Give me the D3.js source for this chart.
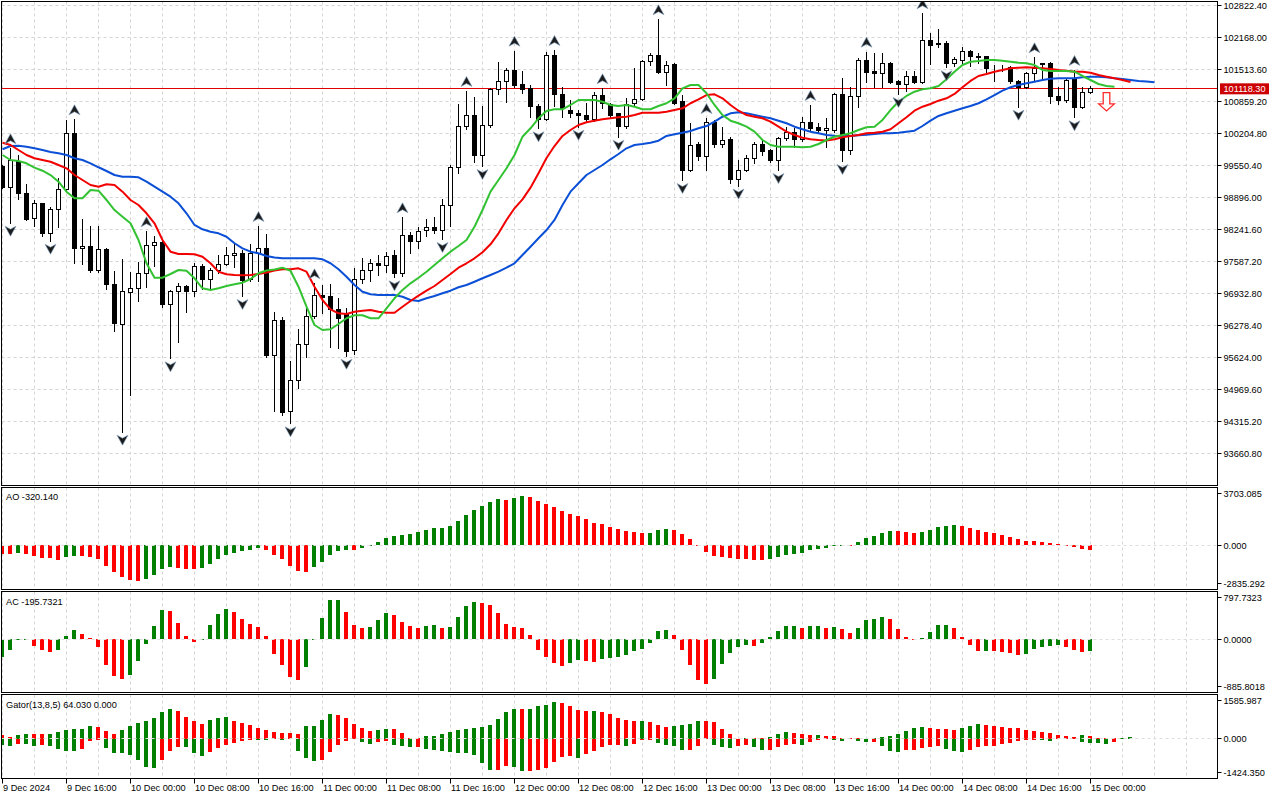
<!DOCTYPE html>
<html>
<head>
<meta charset="utf-8">
<script src="https://cdn.jsdelivr.net/npm/d3@7"></script>
<style>
html, body { margin: 0; padding: 0; background: #fff; }
svg { display: block; font-family: "Liberation Sans", Arial, sans-serif; font-size: 9.2px; }
</style>
</head>
<body>
<svg id="chart" width="1280" height="800"></svg>
<script>
// BTCUSD H1, 9 Dec 08:00 -> 15 Dec 00:00, one value per bar
var opens = [99526, 99105, 99628, 98982, 98471, 98778, 98164, 98655, 99064, 100209,
  97863, 97904, 97407, 97837, 97127, 96303, 96957, 97039, 97346, 97919,
  97980, 96712, 96964, 97080, 96978, 97489, 97223, 97407, 97536, 97714,
  97755, 97209, 97755, 97843, 95661, 96371, 94516, 95144, 95880, 96458,
  96888, 96867, 96610, 96508, 95763, 97209, 97399, 97551, 97501, 97700,
  97346, 98123, 98000, 98211, 98278, 98217, 98737, 99514, 100358, 100577,
  99759, 100373, 101109, 101258, 101503, 101197, 101129, 100753, 100495, 101810,
  101007, 100685, 100604, 100563, 100495, 100978, 100808, 100604, 100344, 100823,
  100904, 101673, 101790, 101448, 101606, 100855, 99444, 99984, 99730, 100434,
  99970, 100072, 99274, 99458, 99698, 99990, 99867, 99649, 100107, 100230,
  100072, 100426, 100332, 100276, 100276, 101007, 99847, 100957, 101694, 101469,
  101422, 101641, 101258, 101197, 101366, 101244, 102103, 102015, 102049, 101641,
  101694, 101878, 101775, 101775, 101538, 101555, 101551, 101264, 101150, 101422,
  101606, 101641, 100957, 100876, 101299, 100741, 101039];

var highs = [99561, 99902, 99765, 99166, 98845, 98790, 98696, 99289, 100481, 100495,
  98456, 98313, 98313, 97863, 97393, 97632, 97379, 97583, 98205, 98109,
  98007, 97005, 97154, 97097, 97551, 97530, 97448, 97720, 97890, 97945,
  97822, 97945, 98313, 98150, 96548, 96446, 95559, 96207, 96630, 97141,
  97107, 97120, 96835, 96643, 97448, 97653, 97632, 97720, 97788, 97822,
  98491, 98197, 98299, 98450, 98503, 98859, 99561, 100808, 101074, 100957,
  100767, 101129, 101673, 101538, 101898, 101489, 101197, 100808, 101880, 101912,
  101162, 100890, 100685, 100823, 101060, 101129, 100823, 100630, 100925, 101538,
  101708, 101857, 102540, 101694, 101653, 100992, 100414, 100037, 100520, 100480,
  100332, 100139, 99663, 99765, 100037, 100072, 99882, 100139, 100332, 100311,
  100536, 100788, 100414, 100516, 101027, 101334, 101150, 101743, 101878, 101845,
  101845, 101661, 101299, 101483, 101489, 102663, 102254, 102336, 102103, 101775,
  101968, 101912, 101845, 101790, 101606, 101606, 101585, 101299, 101469, 101763,
  101653, 101673, 101150, 101334, 101503, 101150, 101176];

var lows = [99084, 98381, 98859, 98436, 98313, 98115, 98013, 98299, 99049, 97563,
  97530, 97379, 97379, 97031, 96160, 94107, 94857, 96786, 97060, 97501,
  96651, 95608, 95935, 96548, 96882, 97031, 97031, 97346, 97516, 97481,
  96882, 97195, 97195, 95640, 94530, 94448, 94278, 94994, 95628, 96426,
  96528, 95833, 95812, 95660, 95700, 97141, 97189, 97311, 97379, 97264,
  97290, 97755, 97857, 98115, 98164, 98047, 98319, 99391, 100291, 99628,
  99540, 100344, 101007, 100855, 101162, 101039, 100548, 100311, 100481, 100767,
  100548, 100548, 100344, 100446, 100467, 100720, 100536, 100139, 100323, 100788,
  100890, 101606, 101448, 101197, 100808, 99254, 99444, 99663, 99458, 99935,
  99935, 99190, 99140, 99444, 99608, 99765, 99628, 99458, 100072, 99935,
  100058, 100276, 100209, 99935, 100242, 99643, 99786, 100741, 101264, 101150,
  101150, 101232, 101013, 101080, 101232, 101232, 101626, 101980, 101560, 101590,
  101653, 101595, 101641, 101469, 101285, 101489, 101232, 100753, 101129, 101299,
  101313, 100823, 100808, 100855, 100536, 100720, 101027];

var closes = [99097, 99649, 98968, 98456, 98778, 98150, 98655, 99064, 100209, 97849,
  97904, 97399, 97837, 97113, 96324, 96964, 97031, 97346, 97919, 97980,
  96704, 96964, 97080, 96978, 97481, 97215, 97407, 97536, 97714, 97755,
  97189, 97755, 97857, 95661, 96371, 94495, 95144, 95880, 96458, 96888,
  96847, 96610, 96426, 95743, 97223, 97399, 97551, 97501, 97685, 97346,
  98123, 97992, 98197, 98278, 98217, 98737, 99514, 100358, 100577, 99759,
  100373, 101109, 101258, 101503, 101191, 101109, 100753, 100481, 101796, 101007,
  100720, 100604, 100563, 100495, 100978, 100823, 100583, 100344, 100808, 100904,
  101673, 101790, 101448, 101591, 100823, 99458, 99955, 99730, 100434, 99970,
  100058, 99274, 99458, 99698, 99990, 99833, 99649, 100107, 100230, 100072,
  100426, 100311, 100276, 100311, 101007, 99847, 100957, 101694, 101448, 101422,
  101641, 101244, 101197, 101366, 101244, 102103, 102000, 102049, 101641, 101708,
  101878, 101775, 101769, 101538, 101530, 101546, 101264, 101150, 101422, 101538,
  101641, 100957, 100876, 101285, 100741, 101039, 101118.30];

// Alligator lines as drawn (already shifted forward 8 / 5 / 3 bars)
var jaw = [99882, 99949, 99955, 99935, 99902, 99867, 99827, 99800, 99765, 99698,
  99663, 99595, 99514, 99438, 99356, 99321, 99321, 99309, 99219, 99117,
  99015, 98912, 98778, 98573, 98334, 98246, 98197, 98164, 98094, 97960,
  97857, 97788, 97755, 97700, 97669, 97653, 97653, 97653, 97653, 97653,
  97632, 97551, 97428, 97276, 97107, 96970, 96917, 96902, 96902, 96902,
  96867, 96800, 96780, 96835, 96882, 96937, 96990, 97060, 97107, 97174,
  97244, 97311, 97379, 97461, 97551, 97720, 97890, 98062, 98231, 98436,
  98743, 99015, 99187, 99356, 99458, 99561, 99677, 99786, 99902, 99970,
  99990, 100017, 100058, 100154, 100189, 100221, 100256, 100311, 100358, 100446,
  100548, 100618, 100638, 100618, 100583, 100548, 100516, 100467, 100414, 100344,
  100291, 100242, 100209, 100174, 100160, 100154, 100154, 100168, 100180, 100195,
  100209, 100209, 100221, 100242, 100262, 100358, 100467, 100563, 100618, 100671,
  100720, 100767, 100823, 100904, 100992, 101080, 101150, 101197, 101232, 101264,
  101299, 101326, 101334, 101334, 101334, 101354, 101366, 101366, 101354, 101334,
  101319, 101299, 101279, 101268, 101252];

var teeth = [100017, 99970, 99867, 99765, 99698, 99663, 99628, 99561, 99493, 99356,
  99254, 99152, 99117, 99166, 99152, 99015, 98845, 98743, 98573, 98369,
  98027, 97788, 97741, 97741, 97735, 97685, 97551, 97379, 97326, 97311,
  97305, 97311, 97332, 97362, 97403, 97428, 97428, 97448, 97379, 97072,
  96800, 96610, 96528, 96514, 96561, 96581, 96595, 96561, 96540, 96540,
  96663, 96780, 96888, 96990, 97086, 97209, 97332, 97461, 97551, 97653,
  97775, 97939, 98164, 98436, 98675, 98859, 99097, 99391, 99704, 99949,
  100154, 100276, 100379, 100434, 100467, 100495, 100516, 100536, 100548, 100583,
  100630, 100630, 100630, 100651, 100685, 100720, 100823, 100904, 100992, 101007,
  100925, 100788, 100671, 100583, 100548, 100516, 100446, 100344, 100242, 100174,
  100119, 100086, 100072, 100062, 100086, 100127, 100154, 100174, 100209, 100221,
  100242, 100291, 100414, 100536, 100671, 100753, 100808, 100876, 100925, 101013,
  101150, 101279, 101381, 101422, 101469, 101503, 101538, 101551, 101559, 101551,
  101538, 101524, 101503, 101489, 101469, 101469, 101448, 101401, 101366, 101334,
  101299, 101258];

var lips = [99765, 99663, 99643, 99595, 99506, 99444, 99356, 99219, 99015, 98880,
  98880, 99049, 99035, 98845, 98640, 98503, 98369, 98027, 97551, 97256,
  97256, 97332, 97413, 97399, 97244, 97039, 97005, 97039, 97086, 97121,
  97154, 97229, 97346, 97403, 97424, 97461, 97399, 97072, 96663, 96289,
  96186, 96201, 96309, 96426, 96487, 96487, 96426, 96426, 96630, 96835,
  97005, 97141, 97256, 97379, 97516, 97653, 97788, 97904, 98027, 98299,
  98640, 99015, 99254, 99493, 99765, 100139, 100311, 100516, 100665, 100700,
  100700, 100788, 100890, 100890, 100890, 100855, 100788, 100767, 100788, 100753,
  100700, 100700, 100767, 100823, 100925, 101129, 101197, 101197, 101027, 100788,
  100583, 100467, 100414, 100344, 100242, 100072, 99970, 99935, 99935, 99935,
  99923, 99935, 99990, 100072, 100139, 100174, 100209, 100276, 100332, 100344,
  100481, 100685, 100855, 100972, 101060, 101109, 101129, 101176, 101313, 101469,
  101606, 101673, 101688, 101708, 101708, 101694, 101673, 101653, 101641, 101606,
  101503, 101483, 101483, 101483, 101469, 101381, 101299, 101217, 101176, 101162];

var fractalUp = [1, 9, 18, 32, 39, 50, 58, 64, 69, 75, 82, 88, 101, 108, 115, 129, 134];
var fractalDown = [1, 6, 15, 21, 30, 36, 43, 49, 55, 60, 67, 72, 77, 85, 92, 97, 105, 112, 118, 127, 134];

var ao = [-538, -545, -474, -538, -689, -797, -840, -926, -732, -689,
  -695, -754, -861, -1335, -1722, -2045, -2218, -2282, -2153, -1916,
  -1529, -1400, -1464, -1507, -1529, -1443, -1206, -861, -624, -474,
  -344, -280, -151, -280, -603, -861, -1335, -1658, -1722, -1400,
  -1077, -624, -344, -301, -310, -172, -20, 215, 474, 603,
  667, 732, 861, 990, 1120, 1130, 1249, 1572, 1959, 2282,
  2541, 2799, 2971, 2928, 3057, 3186, 3122, 2864, 2670, 2476,
  2218, 2024, 1895, 1701, 1443, 1378, 1184, 1055, 926, 861,
  797, 800, 990, 1055, 990, 732, 409, -43, -431, -689,
  -754, -818, -883, -888, -926, -935, -861, -732, -603, -538,
  -474, -280, -215, -151, -43, -20, -30, 215, 474, 603,
  797, 926, 920, 861, 797, 861, 990, 1184, 1249, 1313,
  1249, 1120, 990, 861, 797, 667, 538, 409, 280, 275,
  215, 151, 86, -43, -86, -237, -320.140];

var ac = [-295, -184, -5, 0, -111, -178, -212, -178, 50, 150,
  84, 17, -134, -435, -619, -663, -596, -362, -78, 217,
  485, 468, 273, 50, -45, 2, 234, 418, 502, 451,
  334, 251, 201, 50, -251, -435, -635, -680, -468, -5,
  351, 652, 655, 451, 234, 184, 201, 318, 435, 401,
  284, 217, 184, 217, 234, 184, 201, 368, 552, 619,
  602, 568, 435, 251, 201, 184, 67, -184, -301, -401,
  -451, -401, -351, -368, -385, -334, -318, -301, -268, -201,
  -167, -67, 134, 150, 67, -184, -435, -685, -736, -669,
  -418, -234, -134, -100, -105, -67, 34, 134, 217, 220,
  184, 217, 220, 184, 201, 167, 100, 184, 318, 334,
  368, 334, 167, 34, -17, 17, 117, 234, 240, 184,
  34, -100, -201, -190, -201, -210, -230, -268, -251, -167,
  -134, -117, -100, -134, -184, -217, -195.7321];

var gatorUp = [131, 48, 131, 167, 165, 163, 179, 227, 299, 335,
  359, 466, 430, 263, 179, 299, 466, 574, 645, 753,
  968, 1076, 1004, 789, 645, 538, 681, 753, 789, 645,
  574, 502, 394, 323, 251, 215, 209, 179, 466, 472,
  681, 896, 860, 753, 538, 394, 287, 323, 359, 353,
  215, 36, 30, 108, 114, 179, 251, 323, 359, 394,
  430, 502, 717, 968, 1076, 1070, 1082, 1183, 1219, 1326,
  1291, 1183, 1040, 1004, 1010, 968, 896, 753, 681, 645,
  651, 609, 502, 430, 466, 502, 538, 645, 639, 609,
  359, 179, 6, 36, 33, 31, 72, 179, 251, 215,
  179, 143, 149, 108, 105, 36, 12, 10, 6, 36,
  72, 108, 179, 287, 394, 430, 394, 359, 353, 323,
  394, 466, 538, 502, 466, 430, 394, 388, 323, 287,
  251, 215, 143, 108, 72, 143, 108, 36, 33, 31,
  36, 64.030];

var gatorDown = [-215, -251, -179, -185, -251, -215, -251, -359, -430, -436,
  -359, -72, -36, -323, -502, -508, -574, -753, -1004, -1040,
  -753, -430, -287, -293, -502, -609, -466, -323, -215, -143,
  -72, -36, -42, -48, -12, -36, -12, -430, -681, -789,
  -753, -466, -215, -72, -24, -131, -203, -131, -96, -239,
  -275, -311, -305, -382, -418, -454, -490, -496, -526, -598,
  -884, -1135, -1129, -992, -1028, -1171, -1165, -1135, -1064, -848,
  -669, -633, -705, -562, -454, -311, -239, -233, -275, -203,
  -60, -48, -167, -239, -275, -418, -412, -275, -24, -239,
  -311, -317, -275, -239, -311, -418, -412, -311, -239, -203,
  -209, -131, -60, -24, -60, -66, -24, -96, -131, -125,
  -275, -454, -460, -418, -412, -347, -311, -275, -382, -454,
  -490, -418, -311, -275, -269, -203, -167, -96, -60, -54,
  -60, -66, -24, -18, -12, -131, -137, -167, -173, -131];

// first bar has no previous value to compare with, colour as on screen
var firstBarUp = { ao: false, ac: true, gatorUp: false, gatorDown: true };

var priceTicks = [102822.40, 102168.00, 101513.60, 100859.20, 100204.80, 99550.40, 98896.00,
  98241.60, 97587.20, 96932.80, 96278.40, 95624.00, 94969.60, 94315.20, 93660.80];
var aoRange = [-2835.292, 3703.085];
var acRange = [-885.8018, 797.7323];
var gatorRange = [-1424.350, 1585.987];
var lastPrice = 101118.30;
var sellSignal = { bar: 138, price: 101040 };

var timeLabels = ["9 Dec 2024", "9 Dec 16:00", "10 Dec 00:00", "10 Dec 08:00", "10 Dec 16:00",
  "11 Dec 00:00", "11 Dec 08:00", "11 Dec 16:00", "12 Dec 00:00", "12 Dec 08:00", "12 Dec 16:00",
  "13 Dec 00:00", "13 Dec 08:00", "13 Dec 16:00", "14 Dec 00:00", "14 Dec 08:00", "14 Dec 16:00",
  "15 Dec 00:00"];
var barsPerLabel = 8;

var GREEN = "#008000", RED = "#ff0000", GRID = "#d4d4d4";

var svg = d3.select("#chart");
svg.append("rect").attr("width", 1280).attr("height", 800).attr("fill", "#fff");

var frameL = 1.5, frameR = 1217.5;
var panels = {
  main:  { top: 1.5,   bottom: 485.5 },
  ao:    { top: 487.5, bottom: 589.5 },
  ac:    { top: 591.5, bottom: 692.5 },
  gator: { top: 694.5, bottom: 778.5 }
};

var x = d3.scaleLinear().domain([0, 152]).range([2.5, 2.5 + 8 * 152]);
var yMain = d3.scaleLinear().domain([priceTicks[priceTicks.length - 1], priceTicks[0]]).range([453.5, 5.5]);
var yAO = d3.scaleLinear().domain(aoRange).range([panels.ao.bottom, panels.ao.top]);
var yAC = d3.scaleLinear().domain(acRange).range([panels.ac.bottom, panels.ac.top]);
var yGator = d3.scaleLinear().domain(gatorRange).range([panels.gator.bottom, panels.gator.top]);

var crisp = function(v) { return Math.round(v - 0.5) + 0.5; };

var defs = svg.append("defs");
Object.keys(panels).forEach(function(k) {
  var p = panels[k];
  defs.append("clipPath").attr("id", "clip-" + k)
    .append("rect").attr("x", frameL + 0.5).attr("y", p.top + 0.5)
    .attr("width", frameR - frameL - 1).attr("height", p.bottom - p.top - 1);
});

var panelGroup = function(k) {
  return svg.append("g").attr("clip-path", "url(#clip-" + k + ")");
};

// grid
var gridBars = d3.range(0, 152, 4);
Object.keys(panels).forEach(function(k) {
  var p = panels[k];
  var g = panelGroup(k);
  g.selectAll(null).data(gridBars).enter().append("line")
    .attr("x1", function(d) { return x(d); }).attr("x2", function(d) { return x(d); })
    .attr("y1", p.top).attr("y2", p.bottom)
    .attr("stroke", GRID).attr("stroke-dasharray", "3,3");
  if (k === "main") {
    g.selectAll(null).data(priceTicks).enter().append("line")
      .attr("x1", frameL).attr("x2", frameR)
      .attr("y1", function(d) { return crisp(yMain(d)); })
      .attr("y2", function(d) { return crisp(yMain(d)); })
      .attr("stroke", GRID).attr("stroke-dasharray", "3,3");
  }
});

// main chart
var gMain = panelGroup("main");

gMain.append("line")
  .attr("x1", frameL).attr("x2", frameR)
  .attr("y1", crisp(yMain(lastPrice))).attr("y2", crisp(yMain(lastPrice)))
  .attr("stroke", "#e00000").attr("stroke-width", 1);

var candles = gMain.selectAll(".candle").data(opens).enter().append("g").attr("class", "candle");

candles.append("line")
  .attr("x1", function(d, i) { return x(i); }).attr("x2", function(d, i) { return x(i); })
  .attr("y1", function(d, i) { return Math.round(yMain(highs[i])); })
  .attr("y2", function(d, i) { return Math.round(yMain(lows[i])) + 1; })
  .attr("stroke", "#000").attr("stroke-width", 1);

candles.append("rect")
  .attr("x", function(d, i) { return x(i) - 2; })
  .attr("width", 4)
  .attr("y", function(d, i) { return crisp(yMain(Math.max(opens[i], closes[i]))); })
  .attr("height", function(d, i) {
    var top = crisp(yMain(Math.max(opens[i], closes[i])));
    var bot = crisp(yMain(Math.min(opens[i], closes[i])));
    return Math.max(0, bot - top);
  })
  .attr("fill", function(d, i) { return closes[i] >= opens[i] ? "#fff" : "#000"; })
  .attr("stroke", "#000").attr("stroke-width", 1);

var alligator = [
  { values: jaw, color: "#0a4fd6" },
  { values: teeth, color: "#f20000" },
  { values: lips, color: "#32c232" }
];
var line = d3.line()
  .x(function(d, i) { return x(i); })
  .y(function(d) { return yMain(d); });

gMain.selectAll(".alligator").data(alligator).enter().append("path")
  .attr("class", "alligator")
  .attr("d", function(d) { return line(d.values); })
  .attr("fill", "none")
  .attr("stroke", function(d) { return d.color; })
  .attr("stroke-width", 2)
  .attr("stroke-linejoin", "round");

// fractal arrows
var upArrow = "M0,-5.5 L5.5,4.5 L0,1.5 L-5.5,4.5 Z";
var downArrow = "M0,5.5 L5.5,-4.5 L0,-1.5 L-5.5,-4.5 Z";

gMain.selectAll(".fup").data(fractalUp).enter().append("path")
  .attr("d", upArrow)
  .attr("transform", function(b) { return "translate(" + x(b) + "," + (yMain(highs[b]) - 9) + ")"; })
  .attr("fill", "#1c1c1c").attr("stroke", "#7f9fbf").attr("stroke-width", 0.6);

gMain.selectAll(".fdn").data(fractalDown).enter().append("path")
  .attr("d", downArrow)
  .attr("transform", function(b) { return "translate(" + x(b) + "," + (yMain(lows[b]) + 8) + ")"; })
  .attr("fill", "#1c1c1c").attr("stroke", "#7f9fbf").attr("stroke-width", 0.6);

// sell signal arrow
gMain.append("path")
  .attr("d", "M-3.3,0 H3.3 V11.3 H7.8 L0,18.3 L-7.8,11.3 H-3.3 Z")
  .attr("transform", "translate(" + x(sellSignal.bar) + "," + yMain(sellSignal.price) + ")")
  .attr("fill", "#fff").attr("stroke", "#ff2a2a").attr("stroke-width", 1.3)
  .attr("stroke-linejoin", "miter");

// histograms
var drawHistogram = function(k, values, yScale, firstUp, grows) {
  var g = panelGroup(k);
  var zero = yScale(0);
  g.selectAll(null).data(values).enter().append("rect")
    .attr("x", function(d, i) { return x(i) - 2.5; })
    .attr("width", 4)
    .attr("y", function(d) { return Math.min(yScale(d), zero); })
    .attr("height", function(d) { return Math.max(0.6, Math.abs(yScale(d) - zero)); })
    .attr("fill", function(d, i) {
      var up = i === 0 ? firstUp : grows(d, values[i - 1]);
      return up ? GREEN : RED;
    })
    .attr("shape-rendering", "crispEdges");
  return g;
};
var higher = function(a, b) { return a > b; };
var wider = function(a, b) { return Math.abs(a) > Math.abs(b); };

var gAO = drawHistogram("ao", ao, yAO, firstBarUp.ao, higher);
var gAC = drawHistogram("ac", ac, yAC, firstBarUp.ac, higher);
var gGator = drawHistogram("gator", gatorUp, yGator, firstBarUp.gatorUp, wider);
drawHistogram("gator", gatorDown, yGator, firstBarUp.gatorDown, wider);

[[gAO, yAO], [gAC, yAC], [gGator, yGator]].forEach(function(p) {
  p[0].append("line")
    .attr("x1", frameL).attr("x2", frameR)
    .attr("y1", crisp(p[1](0))).attr("y2", crisp(p[1](0)))
    .attr("stroke", "#dedede").attr("stroke-dasharray", "3,3");
});

// frames
Object.keys(panels).forEach(function(k) {
  var p = panels[k];
  svg.append("rect")
    .attr("x", frameL).attr("y", p.top)
    .attr("width", frameR - frameL).attr("height", p.bottom - p.top)
    .attr("fill", "none").attr("stroke", "#000").attr("stroke-width", 1);
});

// indicator titles
var titles = [
  { text: "AO " + ao[ao.length - 1].toFixed(3), y: 499.5 },
  { text: "AC " + ac[ac.length - 1].toFixed(4), y: 605 },
  { text: "Gator(13,8,5) " + gatorUp[gatorUp.length - 1].toFixed(3) + " 0.000", y: 707.5 }
];
svg.selectAll(".title").data(titles).enter().append("text")
  .attr("x", 6).attr("y", function(d) { return d.y; })
  .attr("fill", "#000").text(function(d) { return d.text; });

// right axis
var axisX = frameR;
var rightLabels = priceTicks.map(function(v) { return { y: crisp(yMain(v)), text: v.toFixed(2) }; });
var subAxis = function(range, scale, digits, p) {
  [range[1], 0, range[0]].forEach(function(v) {
    var yy = Math.max(p.top + 6, Math.min(p.bottom - 6, scale(v)));
    rightLabels.push({ y: crisp(yy), text: v.toFixed(digits) });
  });
};
subAxis(aoRange, yAO, 3, panels.ao);
subAxis(acRange, yAC, 4, panels.ac);
subAxis(gatorRange, yGator, 3, panels.gator);

var gAxis = svg.append("g");
gAxis.selectAll(null).data(rightLabels).enter().append("line")
  .attr("x1", axisX).attr("x2", axisX + 4)
  .attr("y1", function(d) { return d.y; }).attr("y2", function(d) { return d.y; })
  .attr("stroke", "#000");
gAxis.selectAll(null).data(rightLabels).enter().append("text")
  .attr("x", axisX + 6).attr("y", function(d) { return d.y; })
  .attr("dy", "0.35em").attr("fill", "#000")
  .text(function(d) { return d.text; });

// current price tag
var py = yMain(lastPrice);
gAxis.append("rect")
  .attr("x", 1220).attr("y", py - 5.5).attr("width", 49).attr("height", 11)
  .attr("fill", "#cc0000");
gAxis.append("text")
  .attr("x", axisX + 6).attr("y", py).attr("dy", "0.35em")
  .attr("fill", "#fff").text(lastPrice.toFixed(2));

// time axis
var gTime = svg.append("g");
gTime.selectAll(null).data(timeLabels).enter().append("line")
  .attr("x1", function(d, i) { return x(i * barsPerLabel); })
  .attr("x2", function(d, i) { return x(i * barsPerLabel); })
  .attr("y1", panels.gator.bottom).attr("y2", panels.gator.bottom + 5)
  .attr("stroke", "#000");
gTime.selectAll(null).data(timeLabels).enter().append("text")
  .attr("x", function(d, i) { return x(i * barsPerLabel) + 0.5; })
  .attr("y", 790.5)
  .attr("fill", "#000")
  .text(function(d) { return d; });
</script>
</body>
</html>
